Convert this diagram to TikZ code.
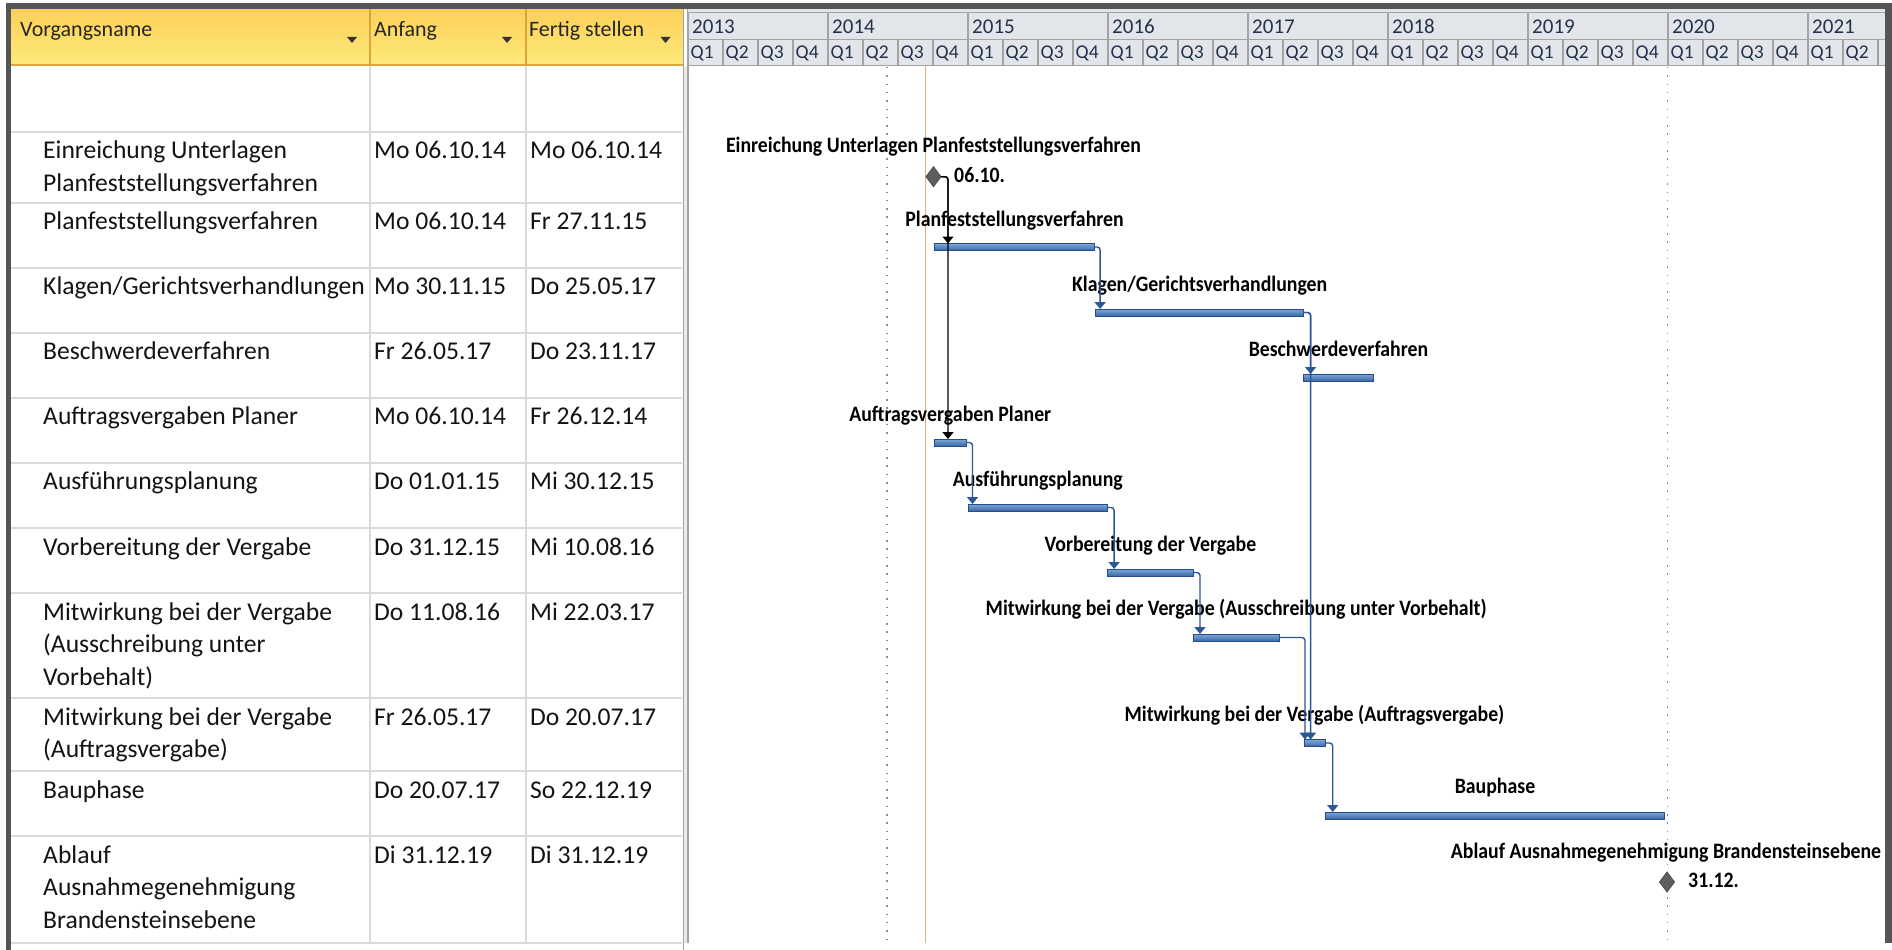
\documentclass[tikz,border=0pt]{standalone}
\usepackage{fontspec}
\setmainfont{Carlito}
\newfontfamily\lblfont{Carlito}[FakeStretch=0.9]
\usetikzlibrary{arrows.meta,shapes.geometric,calc}
\definecolor{framec}{HTML}{555555}
\definecolor{hdrtop}{HTML}{FCD05A}
\definecolor{hdrbot}{HTML}{FEEA7A}
\definecolor{hdrline}{HTML}{D9A53F}
\definecolor{gridc}{HTML}{DADADA}
\definecolor{tlbg}{HTML}{E2E5EA}
\definecolor{tlline}{HTML}{A3A3A3}
\definecolor{tltext}{HTML}{23324A}
\definecolor{bartop}{HTML}{7FA7DA}
\definecolor{barbot}{HTML}{3A68A6}
\definecolor{bardraw}{HTML}{254E87}
\definecolor{linkc}{HTML}{2B5797}
\definecolor{todayc}{HTML}{F6A76B}
\definecolor{dotc}{HTML}{8C8C8C}
\definecolor{msfill}{HTML}{5E5E5E}
\newcommand\tcell[1]{\begin{tabular}[t]{@{}l@{}}#1\end{tabular}}
\newcommand\gbar[4]{\node[ganttbar, minimum width={#3-#2}] (#1) at (#2,#4) {};}
\begin{document}
\begin{tikzpicture}[x=1pt,y=-1pt,
  tabtext/.style={anchor=base west, inner sep=0pt, font=\fontsize{25.6}{32.5}\selectfont, text=black!92},
  hdrtext/.style={anchor=base west, inner sep=0pt, font=\fontsize{22}{26}\selectfont, text=black!85},
  yeartext/.style={anchor=base west, inner sep=0pt, font=\fontsize{21}{25}\selectfont, text=tltext},
  qtext/.style={anchor=base west, inner sep=0pt, font=\fontsize{19.5}{23}\selectfont, text=tltext},
  lbl/.style={anchor=base, inner sep=0pt, font=\lblfont\bfseries\fontsize{22}{26}\selectfont, text=black},
  datelbl/.style={anchor=base west, inner sep=0pt, font=\lblfont\bfseries\fontsize{22}{26}\selectfont, text=black},
  ganttbar/.style={rectangle, anchor=north west, inner sep=0pt, outer sep=0pt, minimum height=7pt, draw=bardraw, line width=1pt, top color=bartop, bottom color=barbot},
  ms/.style={diamond, inner sep=0pt, outer sep=0pt, minimum width=15pt, minimum height=20pt, draw=black!70, line width=0.8pt, fill=msfill},
  link/.style={draw=linkc, line width=1.4pt, rounded corners=3pt, -{Triangle[width=11pt,length=7pt]}},
  blink/.style={link, draw=black},
  tlgrid/.style={draw=tlline, line width=1.5pt},
  tabgrid/.style={draw=gridc, line width=2pt},
  dotline/.style={draw=dotc, line width=1.5pt, dash pattern=on 1.5pt off 6.8pt},
  todayline/.style={draw=todayc, line width=1.6pt}
]
\useasboundingbox (0,0) rectangle (1892,950);
\fill[white] (0,0) rectangle (1892,950);
% ---------- table header ----------
\shade[top color=hdrtop, bottom color=hdrbot] (11,9) rectangle (683,66);
\draw[hdrline, line width=1.5pt] (11,65) -- (683,65);
\draw[hdrline, line width=1.5pt] (370,9) -- (370,66) (526,9) -- (526,66);
\node[hdrtext] (h1) at (20,37) {Vorgangsname};
\node[hdrtext] (h2) at (374,37) {Anfang};
\node[hdrtext] (h3) at (529,37) {Fertig stellen};
\fill[black!80] (347,37) -- (357,37) -- (352,43) -- cycle;
\fill[black!80] (502,37) -- (512,37) -- (507,43) -- cycle;
\fill[black!80] (660.5,37) -- (670.5,37) -- (665.5,43) -- cycle;
% ---------- table grid ----------
\foreach \yy in {131.5,202.5,267.5,332.5,397.5,462.5,528,593,698,771,836,943}
  \draw[tabgrid] (11,\yy) -- (682,\yy);
\draw[tabgrid] (370,66) -- (370,943) (526,66) -- (526,943);
\draw[draw=tlline, line width=1.2pt] (683.5,9) -- (683.5,950) (688,9) -- (688,943);
\fill[black!8] (684.2,66) rectangle (687.3,943);
% ---------- table rows ----------
\node[tabtext] (n1) at (43,158.5) {\tcell{Einreichung Unterlagen\\Planfeststellungsverfahren}};
\node[tabtext] (s1) at (374,158.5) {Mo 06.10.14};
\node[tabtext] (f1) at (530,158.5) {Mo 06.10.14};
\node[tabtext] (n2) at (43,229.5) {Planfeststellungsverfahren};
\node[tabtext] (s2) at (374,229.5) {Mo 06.10.14};
\node[tabtext] (f2) at (530,229.5) {Fr 27.11.15};
\node[tabtext] (n3) at (43,294.5) {Klagen/Gerichtsverhandlungen};
\node[tabtext] (s3) at (374,294.5) {Mo 30.11.15};
\node[tabtext] (f3) at (530,294.5) {Do 25.05.17};
\node[tabtext] (n4) at (43,359.5) {Beschwerdeverfahren};
\node[tabtext] (s4) at (374,359.5) {Fr 26.05.17};
\node[tabtext] (f4) at (530,359.5) {Do 23.11.17};
\node[tabtext] (n5) at (43,424.5) {Auftragsvergaben Planer};
\node[tabtext] (s5) at (374,424.5) {Mo 06.10.14};
\node[tabtext] (f5) at (530,424.5) {Fr 26.12.14};
\node[tabtext] (n6) at (43,489.5) {Ausführungsplanung};
\node[tabtext] (s6) at (374,489.5) {Do 01.01.15};
\node[tabtext] (f6) at (530,489.5) {Mi 30.12.15};
\node[tabtext] (n7) at (43,555) {Vorbereitung der Vergabe};
\node[tabtext] (s7) at (374,555) {Do 31.12.15};
\node[tabtext] (f7) at (530,555) {Mi 10.08.16};
\node[tabtext] (n8) at (43,620) {\tcell{Mitwirkung bei der Vergabe\\(Ausschreibung unter\\Vorbehalt)}};
\node[tabtext] (s8) at (374,620) {Do 11.08.16};
\node[tabtext] (f8) at (530,620) {Mi 22.03.17};
\node[tabtext] (n9) at (43,725) {\tcell{Mitwirkung bei der Vergabe\\(Auftragsvergabe)}};
\node[tabtext] (s9) at (374,725) {Fr 26.05.17};
\node[tabtext] (f9) at (530,725) {Do 20.07.17};
\node[tabtext] (n10) at (43,798) {Bauphase};
\node[tabtext] (s10) at (374,798) {Do 20.07.17};
\node[tabtext] (f10) at (530,798) {So 22.12.19};
\node[tabtext] (n11) at (43,863) {\tcell{Ablauf\\Ausnahmegenehmigung\\Brandensteinsebene}};
\node[tabtext] (s11) at (374,863) {Di 31.12.19};
\node[tabtext] (f11) at (530,863) {Di 31.12.19};
% ---------- timescale ----------
\fill[tlbg] (688,9) rectangle (1885,66);
\begin{scope}
\clip (688,9) rectangle (1885,66);
\foreach \i in {0,...,8}{
  \pgfmathtruncatemacro\yr{2013+\i}
  \draw[tlgrid] (688+140*\i,12.7) rectangle ++(140,26.6);
  \node[yeartext] (y\i) at (688+140*\i+4,33.3) {\yr};
}
\foreach \j in {0,...,34}{
  \draw[tlgrid] (688+35*\j,39.3) rectangle ++(35,26.7);
}
\foreach \j in {0,...,33}{
  \pgfmathtruncatemacro\qq{mod(\j,4)+1}
  \node[qtext] (q\j) at (688+35*\j+2.5,59) {Q\qq};
}
\end{scope}
% ---------- chart body lines ----------
\draw[dotline] (887,67) -- (887,943);
\draw[dotline] (1667.5,67) -- (1667.5,943);
\draw[todayline] (925.5,66) -- (925.5,943);
% ---------- bars ----------
\gbar{pf}{934.6}{1094.6}{243.5}
\gbar{kl}{1095.7}{1303.6}{309}
\gbar{bs}{1303.6}{1373.4}{374}
\gbar{ap}{934.6}{966}{439}
\gbar{af}{968}{1107.6}{504}
\gbar{vb}{1107.6}{1193.3}{569}
\gbar{ma}{1193.3}{1279}{634}
\gbar{mb}{1304}{1325}{739.5}
\gbar{bp}{1325.5}{1664.5}{812}
\node[ms] (m1) at (933.5,176.7) {};
\node[ms] (m2) at (1667,882) {};
% ---------- labels ----------
\node[lbl] (m1-l) at ($(m1.center)+(0,-24)$) {Einreichung Unterlagen Planfeststellungsverfahren};
\node[datelbl] (m1-d) at ($(m1.center)+(20.5,6)$) {06.10.};
\node[lbl] (pf-l) at ($(pf.north)+(0,-17.5)$) {Planfeststellungsverfahren};
\node[lbl] (kl-l) at ($(kl.north)+(0,-18)$) {Klagen/Gerichtsverhandlungen};
\node[lbl] (bs-l) at ($(bs.north)+(0,-18)$) {Beschwerdeverfahren};
\node[lbl] (ap-l) at ($(ap.north)+(0,-18)$) {Auftragsvergaben Planer};
\node[lbl] (af-l) at ($(af.north)+(0,-18)$) {Ausführungsplanung};
\node[lbl] (vb-l) at ($(vb.north)+(0,-18)$) {Vorbereitung der Vergabe};
\node[lbl] (ma-l) at ($(ma.north)+(0,-19)$) {Mitwirkung bei der Vergabe (Ausschreibung unter Vorbehalt)};
\node[lbl] (mb-l) at ($(mb.north)+(0,-18.5)$) {Mitwirkung bei der Vergabe (Auftragsvergabe)};
\node[lbl] (bp-l) at ($(bp.north)+(0,-19)$) {Bauphase};
\node[lbl] (m2-l) at ($(m2.center)+(-1,-24)$) {Ablauf Ausnahmegenehmigung Brandensteinsebene};
\node[datelbl] (m2-d) at ($(m2.center)+(21,5)$) {31.12.};
% ---------- links ----------
\draw[blink] (m1.east) -- ++(7,0) coordinate (c1) -- (c1 |- pf.north);
\draw[blink] (m1.east) -- ++(7,0) -- (c1 |- ap.north);
\draw[link] (pf.east) -- ++(5.5,0) coordinate (c2) -- (c2 |- kl.north);
\draw[link] (kl.east) -- ++(7,0) coordinate (c3) -- (c3 |- bs.north);
\draw[link] (kl.east) -- ++(7,0) -- (c3 |- mb.north);
\draw[link] (ap.east) -- ++(6.5,0) coordinate (c4) -- (c4 |- af.north);
\draw[link] (af.east) -- ++(6.5,0) coordinate (c5) -- (c5 |- vb.north);
\draw[link] (vb.east) -- ++(6.7,0) coordinate (c6) -- (c6 |- ma.north);
\draw[link] (ma.east) -- ++(26,0) coordinate (c7) -- (c7 |- mb.north);
\draw[link] (mb.east) -- ++(7.7,0) coordinate (c8) -- (c8 |- bp.north);
% ---------- frame ----------
\fill[framec] (6,3) rectangle (1892,9);
\fill[framec] (6,3) rectangle (11,950);
\fill[framec] (1885,3) rectangle (1892,943);
\end{tikzpicture}
\end{document}
